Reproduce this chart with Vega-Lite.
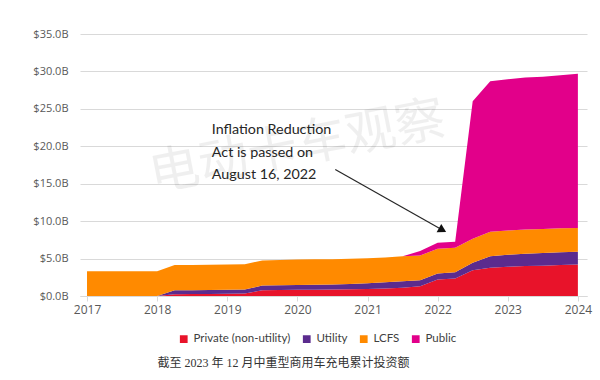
{
  "$schema": "https://vega.github.io/schema/vega-lite/v6.json",
  "width": 507,
  "height": 262,
  "autosize": {"type": "none"},
  "padding": {"left": 80, "top": 34, "right": 13, "bottom": 84},
  "background": "white",
  "config": {
    "view": {"stroke": null},
    "font": "Open Sans",
    "axisY": {"domain": false, "ticks": false, "labelPadding": 12, "gridColor": "#d9d9d9", "labelFontSize": 11, "labelColor": "#595959", "labelFont": "Open Sans", "labelOverlap": false, "labelFlush": false, "title": null},
    "axisX": {"grid": false, "domainColor": "#d9d9d9", "tickColor": "#d9d9d9", "tickSize": 5, "labelPadding": 3, "labelFontSize": 12, "labelColor": "#595959", "labelFont": "Open Sans", "labelOverlap": false, "labelFlush": false, "title": null}
  },
  "title": {
    "text": "截至 2023 年 12 月中重型商用车充电累计投资额",
    "orient": "bottom",
    "anchor": "middle",
    "dx": -50,
    "dy": -13,
    "offset": 26,
    "font": "Liberation Serif, Noto Sans CJK SC",
    "fontSize": 12,
    "fontWeight": "normal",
    "color": "#333333"
  },
  "layer": [
    {
      "data": {
        "values": [
          {"t": 2017.00, "Private (non-utility)": 0, "Utility": 0, "LCFS": 3.3, "Public": 0},
          {"t": 2017.25, "Private (non-utility)": 0, "Utility": 0, "LCFS": 3.3, "Public": 0},
          {"t": 2017.50, "Private (non-utility)": 0, "Utility": 0, "LCFS": 3.3, "Public": 0},
          {"t": 2017.75, "Private (non-utility)": 0, "Utility": 0, "LCFS": 3.3, "Public": 0},
          {"t": 2018.00, "Private (non-utility)": 0, "Utility": 0, "LCFS": 3.32, "Public": 0},
          {"t": 2018.25, "Private (non-utility)": 0.25, "Utility": 0.52, "LCFS": 3.38, "Public": 0},
          {"t": 2018.50, "Private (non-utility)": 0.27, "Utility": 0.51, "LCFS": 3.37, "Public": 0},
          {"t": 2018.75, "Private (non-utility)": 0.28, "Utility": 0.52, "LCFS": 3.37, "Public": 0},
          {"t": 2019.00, "Private (non-utility)": 0.30, "Utility": 0.52, "LCFS": 3.38, "Public": 0},
          {"t": 2019.25, "Private (non-utility)": 0.32, "Utility": 0.55, "LCFS": 3.38, "Public": 0},
          {"t": 2019.50, "Private (non-utility)": 0.78, "Utility": 0.62, "LCFS": 3.34, "Public": 0},
          {"t": 2019.75, "Private (non-utility)": 0.80, "Utility": 0.65, "LCFS": 3.37, "Public": 0},
          {"t": 2020.00, "Private (non-utility)": 0.82, "Utility": 0.66, "LCFS": 3.39, "Public": 0},
          {"t": 2020.25, "Private (non-utility)": 0.84, "Utility": 0.66, "LCFS": 3.40, "Public": 0},
          {"t": 2020.50, "Private (non-utility)": 0.87, "Utility": 0.67, "LCFS": 3.38, "Public": 0},
          {"t": 2020.75, "Private (non-utility)": 0.90, "Utility": 0.70, "LCFS": 3.38, "Public": 0},
          {"t": 2021.00, "Private (non-utility)": 0.95, "Utility": 0.75, "LCFS": 3.35, "Public": 0},
          {"t": 2021.25, "Private (non-utility)": 1.00, "Utility": 0.85, "LCFS": 3.30, "Public": 0},
          {"t": 2021.50, "Private (non-utility)": 1.10, "Utility": 0.88, "LCFS": 3.32, "Public": 0},
          {"t": 2021.75, "Private (non-utility)": 1.30, "Utility": 0.80, "LCFS": 3.31, "Public": 0.59},
          {"t": 2022.00, "Private (non-utility)": 2.20, "Utility": 0.80, "LCFS": 3.30, "Public": 0.80},
          {"t": 2022.25, "Private (non-utility)": 2.34, "Utility": 0.84, "LCFS": 3.26, "Public": 0.80},
          {"t": 2022.50, "Private (non-utility)": 3.45, "Utility": 0.98, "LCFS": 3.21, "Public": 18.36},
          {"t": 2022.75, "Private (non-utility)": 3.76, "Utility": 1.56, "LCFS": 3.26, "Public": 20.12},
          {"t": 2023.00, "Private (non-utility)": 3.90, "Utility": 1.60, "LCFS": 3.25, "Public": 20.20},
          {"t": 2023.25, "Private (non-utility)": 4.00, "Utility": 1.65, "LCFS": 3.25, "Public": 20.30},
          {"t": 2023.50, "Private (non-utility)": 4.05, "Utility": 1.70, "LCFS": 3.20, "Public": 20.35},
          {"t": 2023.75, "Private (non-utility)": 4.15, "Utility": 1.70, "LCFS": 3.20, "Public": 20.45},
          {"t": 2024.00, "Private (non-utility)": 4.20, "Utility": 1.70, "LCFS": 3.20, "Public": 20.60}
        ]
      },
      "transform": [
        {"fold": ["Private (non-utility)", "Utility", "LCFS", "Public"], "as": ["series", "value"]},
        {"calculate": "indexof(['Private (non-utility)','Utility','LCFS','Public'], datum.series)", "as": "ord"}
      ],
      "mark": {"type": "area", "interpolate": "linear"},
      "encoding": {
        "x": {
          "field": "t",
          "type": "quantitative",
          "scale": {"domain": [2016.9, 2024.13], "nice": false, "zero": false},
          "axis": {
            "values": [2017, 2017.25, 2017.5, 2017.75, 2018, 2018.25, 2018.5, 2018.75, 2019, 2019.25, 2019.5, 2019.75, 2020, 2020.25, 2020.5, 2020.75, 2021, 2021.25, 2021.5, 2021.75, 2022, 2022.25, 2022.5, 2022.75, 2023, 2023.25, 2023.5, 2023.75, 2024],
            "format": "d",
            "labelExpr": "datum.value % 1 === 0 ? datum.label : ''"
          }
        },
        "y": {
          "field": "value",
          "type": "quantitative",
          "stack": "zero",
          "scale": {"domain": [0, 35], "nice": false},
          "axis": {
            "values": [0, 5, 10, 15, 20, 25, 30, 35],
            "tickCount": 8,
            "labelExpr": "'$' + format(datum.value, '.1f') + 'B'"
          }
        },
        "color": {
          "field": "series",
          "type": "nominal",
          "scale": {
            "domain": ["Private (non-utility)", "Utility", "LCFS", "Public"],
            "range": ["#E8132A", "#5B2B8E", "#FF8A00", "#E2008A"]
          },
          "legend": {
            "title": null,
            "orient": "none",
            "direction": "horizontal",
            "legendX": 98,
            "legendY": 299,
            "symbolType": "square",
            "symbolSize": 60,
            "symbolStrokeWidth": 0,
            "labelFontSize": 11.5,
            "labelColor": "#404040",
            "labelFont": "Lato",
            "labelOffset": 4,
            "columnPadding": 10
          }
        },
        "order": {"field": "ord", "type": "quantitative"}
      }
    },
    {
      "data": {"values": [{"x1": 2020.54, "y1": 16.9, "x2": 2022.10, "y2": 8.65}]},
      "mark": {"type": "rule", "color": "#262626", "strokeWidth": 1.2},
      "encoding": {
        "x": {"field": "x1", "type": "quantitative", "axis": {"values": [2017, 2017.25, 2017.5, 2017.75, 2018, 2018.25, 2018.5, 2018.75, 2019, 2019.25, 2019.5, 2019.75, 2020, 2020.25, 2020.5, 2020.75, 2021, 2021.25, 2021.5, 2021.75, 2022, 2022.25, 2022.5, 2022.75, 2023, 2023.25, 2023.5, 2023.75, 2024], "format": "d", "labelExpr": "datum.value % 1 === 0 ? datum.label : ''"}},
        "y": {"field": "y1", "type": "quantitative", "axis": {"values": [0, 5, 10, 15, 20, 25, 30, 35], "tickCount": 8, "labelExpr": "'$' + format(datum.value, '.1f') + 'B'"}},
        "x2": {"field": "x2"},
        "y2": {"field": "y2"}
      }
    },
    {
      "data": {"values": [{"x": 2022.07, "y": 8.8}]},
      "mark": {"type": "point", "shape": "triangle-right", "angle": 29, "filled": true, "color": "#111111", "size": 90, "opacity": 1},
      "encoding": {
        "x": {"field": "x", "type": "quantitative", "axis": {"values": [2017, 2017.25, 2017.5, 2017.75, 2018, 2018.25, 2018.5, 2018.75, 2019, 2019.25, 2019.5, 2019.75, 2020, 2020.25, 2020.5, 2020.75, 2021, 2021.25, 2021.5, 2021.75, 2022, 2022.25, 2022.5, 2022.75, 2023, 2023.25, 2023.5, 2023.75, 2024], "format": "d", "labelExpr": "datum.value % 1 === 0 ? datum.label : ''"}},
        "y": {"field": "y", "type": "quantitative", "axis": {"values": [0, 5, 10, 15, 20, 25, 30, 35], "tickCount": 8, "labelExpr": "'$' + format(datum.value, '.1f') + 'B'"}}
      }
    },
    {
      "data": {"values": [{"x": 2018.78, "y": 22.15, "label": "Inflation Reduction\nAct is passed on\nAugust 16, 2022"}]},
      "mark": {"type": "text", "align": "left", "baseline": "middle", "lineBreak": "\n", "lineHeight": 22.6, "fontSize": 14.3, "font": "Lato", "color": "#262626"},
      "encoding": {
        "x": {"field": "x", "type": "quantitative", "axis": {"values": [2017, 2017.25, 2017.5, 2017.75, 2018, 2018.25, 2018.5, 2018.75, 2019, 2019.25, 2019.5, 2019.75, 2020, 2020.25, 2020.5, 2020.75, 2021, 2021.25, 2021.5, 2021.75, 2022, 2022.25, 2022.5, 2022.75, 2023, 2023.25, 2023.5, 2023.75, 2024], "format": "d", "labelExpr": "datum.value % 1 === 0 ? datum.label : ''"}},
        "y": {"field": "y", "type": "quantitative", "axis": {"values": [0, 5, 10, 15, 20, 25, 30, 35], "tickCount": 8, "labelExpr": "'$' + format(datum.value, '.1f') + 'B'"}},
        "text": {"field": "label"}
      }
    },
    {
      "data": {"values": [{"x": 2020.0, "y": 19.8, "label": "电动卡车观察"}]},
      "mark": {"type": "text", "align": "center", "baseline": "middle", "angle": 349, "fontSize": 50, "font": "Noto Sans CJK SC", "color": "#000000", "opacity": 0.06},
      "encoding": {
        "x": {"field": "x", "type": "quantitative", "axis": {"values": [2017, 2017.25, 2017.5, 2017.75, 2018, 2018.25, 2018.5, 2018.75, 2019, 2019.25, 2019.5, 2019.75, 2020, 2020.25, 2020.5, 2020.75, 2021, 2021.25, 2021.5, 2021.75, 2022, 2022.25, 2022.5, 2022.75, 2023, 2023.25, 2023.5, 2023.75, 2024], "format": "d", "labelExpr": "datum.value % 1 === 0 ? datum.label : ''"}},
        "y": {"field": "y", "type": "quantitative", "axis": {"values": [0, 5, 10, 15, 20, 25, 30, 35], "tickCount": 8, "labelExpr": "'$' + format(datum.value, '.1f') + 'B'"}},
        "text": {"field": "label"}
      }
    }
  ]
}
